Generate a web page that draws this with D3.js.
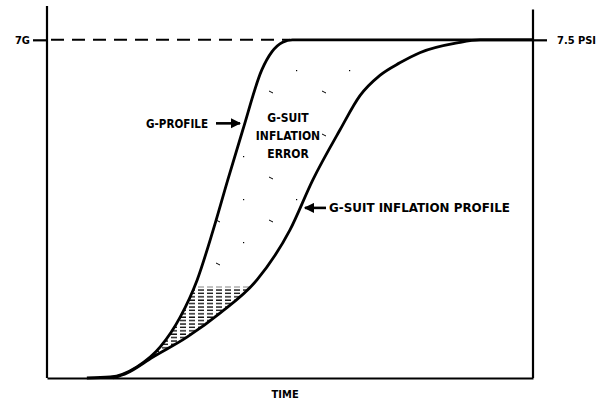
<!DOCTYPE html>
<html>
<head>
<meta charset="utf-8">
<script src="https://cdn.jsdelivr.net/npm/d3@7"></script>
<style>
  body { margin: 0; background: #fff; }
  svg text { font-family: "Liberation Sans Narrow", "DejaVu Sans Condensed", sans-serif; font-weight: bold; fill: #000; }
</style>
</head>
<body>
<svg width="607" height="404"></svg>
<script>
// data (time in % of window, response as fraction of peak)
var gTime  = [8.2, 13.0, 18.5, 23.3, 27.4, 30.9, 34.2, 37.2, 40.3, 44.2, 46.3, 48.5, 50.5, 100];
var gLevel = [0, 0.003, 0.033, 0.092, 0.18, 0.29, 0.438, 0.586, 0.734, 0.911, 0.965, 0.993, 1.0, 1.0];

var suitTime  = [13.6, 16.5, 21.8, 28.8, 35.6, 43.2, 50.0, 54.7, 60.3, 64.4, 68.5, 72.6, 76.7, 84.4, 89.1, 100];
var suitLevel = [0, 0.015, 0.062, 0.121, 0.192, 0.29, 0.438, 0.586, 0.734, 0.835, 0.895, 0.932, 0.962, 0.991, 1.0, 1.0];

var hatchBand = [0.02, 0.27];   // dense hatching
var speckBand = [0.3, 0.95];    // sparse specks

var leftTick = "7G";
var rightTick = "7.5 PSI";
var xLabel = "TIME";
var errorLines = ["G-SUIT", "INFLATION", "ERROR"];

var svg = d3.select("svg");

var x = d3.scaleLinear().domain([0, 100]).range([47, 533]);
var y = d3.scaleLinear().domain([0, 1.1]).range([378, 6]);

var gData = gTime.map(function(t, i) { return [t, gLevel[i]]; });
var suitData = suitTime.map(function(t, i) { return [t, suitLevel[i]]; });

var line = d3.line()
  .x(function(d) { return x(d[0]); })
  .y(function(d) { return y(d[1]); })
  .curve(d3.curveMonotoneX);

var defs = svg.append("defs");

// hatch pattern
var pat = defs.append("pattern")
  .attr("id", "hatch")
  .attr("patternUnits", "userSpaceOnUse")
  .attr("width", 9).attr("height", 3.4);
pat.append("line")
  .attr("x1", 0).attr("x2", 6).attr("y1", 1).attr("y2", 1)
  .attr("stroke", "#000").attr("stroke-width", 1.3);

// sparse specks
var speck = defs.append("pattern")
  .attr("id", "speck")
  .attr("patternUnits", "userSpaceOnUse")
  .attr("width", 53).attr("height", 43);
speck.append("line").attr("x1", 4).attr("x2", 8).attr("y1", 5).attr("y2", 7)
  .attr("stroke", "#000").attr("stroke-width", 1);
speck.append("rect").attr("x", 31).attr("y", 27).attr("width", 1.2).attr("height", 1.2)
  .attr("fill", "#000");

// region between curves
var between = line(gData) + "L" + line(suitData.slice().reverse()).slice(1) + "Z";
defs.append("clipPath").attr("id", "between")
  .append("path").attr("d", between);

svg.append("rect")
  .attr("clip-path", "url(#between)")
  .attr("x", x(0)).attr("width", x(100) - x(0))
  .attr("y", y(hatchBand[1])).attr("height", y(hatchBand[0]) - y(hatchBand[1]))
  .attr("fill", "url(#hatch)");

svg.append("rect")
  .attr("clip-path", "url(#between)")
  .attr("x", x(0)).attr("width", x(100) - x(0))
  .attr("y", y(speckBand[1])).attr("height", y(speckBand[0]) - y(speckBand[1]))
  .attr("fill", "url(#speck)");

// axes frame
var yAxisL = d3.axisLeft(y).tickValues([1]).tickSize(14).tickFormat("");
svg.append("g").attr("transform", "translate(" + x(0) + ",0)").call(yAxisL)
  .call(function(g) {
    g.select(".domain").attr("d", "M0," + y(1.1) + "V" + y(0)).attr("stroke-width", 2.2);
    g.selectAll(".tick line").attr("stroke-width", 2.2);
  });

var yAxisR = d3.axisRight(y).tickValues([1]).tickSize(14).tickFormat("");
svg.append("g").attr("transform", "translate(" + x(100) + ",0)").call(yAxisR)
  .call(function(g) {
    g.select(".domain").attr("d", "M0," + y(1.09) + "V" + y(0)).attr("stroke-width", 2.2);
    g.selectAll(".tick line").attr("stroke-width", 2.2);
  });

var xAxis = d3.axisBottom(x).tickValues([]).tickSizeOuter(0);
svg.append("g").attr("transform", "translate(0," + y(0) + ")").call(xAxis)
  .call(function(g) { g.select(".domain").attr("stroke-width", 2.2); });

// tick labels
svg.append("text").attr("x", x(0) - 17).attr("y", y(1)).attr("dy", "0.35em")
  .attr("text-anchor", "end").attr("font-size", 11).text(leftTick);
svg.append("text").attr("x", x(100) + 24).attr("y", y(1)).attr("dy", "0.35em")
  .attr("font-size", 11).text(rightTick);
svg.append("text").attr("x", x(49)).attr("y", y(0) + 16).attr("dy", "0.35em")
  .attr("text-anchor", "middle").attr("font-size", 11).text(xLabel);

// dashed 7G reference
svg.append("line")
  .attr("x1", x(0) + 4).attr("x2", x(50))
  .attr("y1", y(1)).attr("y2", y(1))
  .attr("stroke", "#000").attr("stroke-width", 2)
  .attr("stroke-dasharray", "13,8");

// curves
svg.append("path").attr("d", line(suitData))
  .attr("fill", "none").attr("stroke", "#000").attr("stroke-width", 2.8);
svg.append("path").attr("d", line(gData))
  .attr("fill", "none").attr("stroke", "#000").attr("stroke-width", 2.8);

// arrows
defs.append("marker").attr("id", "head")
  .attr("viewBox", "0 0 10 10").attr("refX", 9).attr("refY", 5)
  .attr("markerWidth", 4).attr("markerHeight", 4).attr("orient", "auto")
  .append("path").attr("d", "M0,0L10,5L0,10Z").attr("fill", "#000");

function arrow(x1, x2, yy) {
  svg.append("line").attr("x1", x1).attr("x2", x2).attr("y1", yy).attr("y2", yy)
    .attr("stroke", "#000").attr("stroke-width", 2.6).attr("marker-end", "url(#head)");
}

// G-profile label
var gy = y(0.753);
svg.append("text").attr("x", 208).attr("y", gy).attr("dy", "0.35em")
  .attr("text-anchor", "end").attr("font-size", 12)
  .attr("textLength", 62).attr("lengthAdjust", "spacingAndGlyphs").text("G-PROFILE");
arrow(216, 240, gy);

// error label
errorLines.forEach(function(s, i) {
  svg.append("text").attr("x", 288).attr("y", 118 + i * 18).attr("dy", "0.35em")
    .attr("text-anchor", "middle").attr("font-size", 12)
    .attr("stroke", "#fff").attr("stroke-width", 3).attr("paint-order", "stroke")
    .text(s);
});

// suit profile label
var sy = y(0.503);
arrow(326, 305, sy);
svg.append("text").attr("x", 329).attr("y", sy).attr("dy", "0.35em")
  .attr("font-size", 12)
  .attr("textLength", 181).attr("lengthAdjust", "spacingAndGlyphs").text("G-SUIT INFLATION PROFILE");
</script>
</body>
</html>
